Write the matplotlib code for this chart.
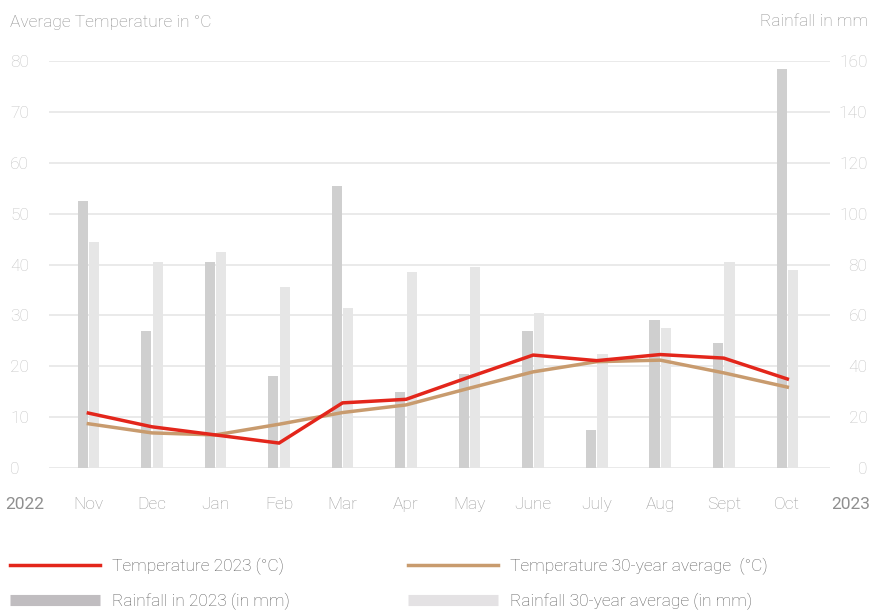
import matplotlib
matplotlib.use("Agg")
import matplotlib.pyplot as plt
from matplotlib.lines import Line2D
from matplotlib.transforms import blended_transform_factory
import numpy as np

# Monthly data Nov 2022 - Oct 2023
months = ["Nov", "Dec", "Jan", "Feb", "Mar", "Apr", "May", "June",
          "July", "Aug", "Sept", "Oct"]
temp_2023 = [10.8, 8.1, 6.5, 4.9, 12.8, 13.5, 17.9, 22.2, 21.1, 22.3, 21.6, 17.5]
temp_avg = [8.7, 6.9, 6.5, 8.6, 10.9, 12.4, 15.7, 18.9, 20.9, 21.2, 18.7, 15.9]
rain_2023 = [105, 54, 81, 36, 111, 30, 37, 54, 15, 58, 49, 157]
rain_avg = [89, 81, 85, 71, 63, 77, 79, 61, 45, 55, 81, 78]
temp_ticks = [0, 10, 20, 30, 40, 50, 60, 70, 80]
rain_ticks = [0, 20, 40, 60, 80, 100, 120, 140, 160]

plt.rcParams['font.family'] = ['Roboto', 'DejaVu Sans']
plt.rcParams['font.weight'] = 'light'

RED = '#e3261b'
TAN = '#c89b6e'
DARK_BAR = '#cfcfcf'
LIGHT_BAR = '#e6e6e6'
FS = 12.5

fig = plt.figure(figsize=(8.81, 6.12), dpi=100)
ax = fig.add_axes([0.0556, 0.2353, 0.8864, 0.665])  # rainfall bars
ax2 = ax.twinx()                                     # temperature lines

x = np.arange(len(months))
w = 0.16
ax.bar(x - 0.09, rain_2023, width=w, color=DARK_BAR, zorder=2)
ax.bar(x + 0.09, rain_avg, width=w, color=LIGHT_BAR, zorder=2)
ax.set_ylim(0, 160)
ax.set_yticks(rain_ticks)
ax.set_xlim(-0.62, 11.67)
ax.grid(axis='y', color='#e8e8e8', linewidth=1.3, zorder=0)
ax.set_axisbelow(True)

ax2.plot(x, temp_avg, color=TAN, linewidth=2.5, solid_joinstyle='miter', zorder=3)
ax2.plot(x, temp_2023, color=RED, linewidth=2.5, solid_joinstyle='miter', zorder=4)
ax2.set_ylim(0, 80)
ax2.set_yticks(temp_ticks)

# rainfall axis on the right, temperature axis on the left
ax.yaxis.tick_right()
ax2.yaxis.tick_left()

for a in (ax, ax2):
    for s in a.spines.values():
        s.set_visible(False)

ax.tick_params(axis='y', length=0, pad=27, labelsize=FS, labelcolor='#c4c4c4')
for lbl in ax.get_yticklabels():
    lbl.set_horizontalalignment('right')
ax2.tick_params(axis='y', length=0, pad=28, labelsize=FS, labelcolor='#c4c4c4')
for lbl in ax2.get_yticklabels():
    lbl.set_horizontalalignment('left')

ax.set_xticks(x)
ax.set_xticklabels(months)
ax.tick_params(axis='x', length=0, pad=21, labelsize=FS, labelcolor='#9c9c9c')

trans = blended_transform_factory(ax.transData, ax.transAxes)
ax.text(-1, -0.09, "2022", transform=trans, ha='center', va='center',
        fontsize=FS, color='#8f8f8f', weight='normal', clip_on=False)
ax.text(12, -0.09, "2023", transform=trans, ha='center', va='center',
        fontsize=FS, color='#8f8f8f', weight='normal', clip_on=False)

fig.text(10 / 881, 1 - 22 / 612, "Average Temperature in °C", ha='left', va='center',
         fontsize=FS, color='#8f8f8f')
fig.text(868 / 881, 1 - 22 / 612, "Rainfall in mm", ha='right', va='center',
         fontsize=FS, color='#8f8f8f')

# legend in two columns
h1 = [Line2D([], [], color=RED, lw=2.5),
      Line2D([], [], color='#c0bdc0', lw=8, solid_capstyle='butt')]
h2 = [Line2D([], [], color=TAN, lw=2.5),
      Line2D([], [], color='#e4e2e4', lw=8, solid_capstyle='butt')]
leg_kw = dict(loc='upper left', frameon=False, fontsize=FS, handlelength=5.2,
              handletextpad=0.7, labelspacing=1.0, borderpad=0, borderaxespad=0,
              labelcolor='#5e5e5e')
fig.legend(h1, ["Temperature 2023 (°C)", "Rainfall in 2023 (in mm)"],
           bbox_to_anchor=(10 / 881, 1 - 558 / 612), **leg_kw)
fig.legend(h2, ["Temperature 30-year average  (°C)", "Rainfall 30-year average (in mm)"],
           bbox_to_anchor=(408 / 881, 1 - 558 / 612), **leg_kw)

fig.savefig("out.png", dpi=100)
